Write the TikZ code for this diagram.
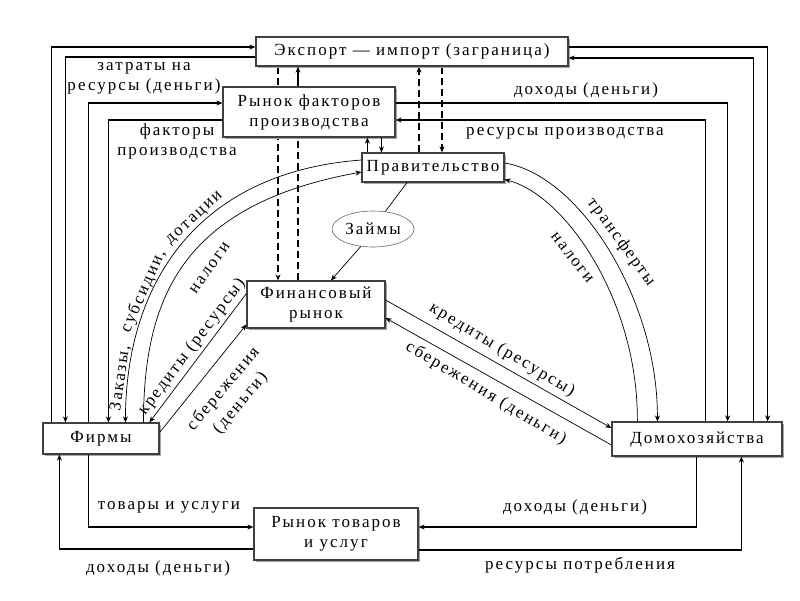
\documentclass[tikz,border=0pt]{standalone}
\usepackage{fontspec}
\setmainfont{Liberation Serif}[LetterSpace=12]
\usepackage{tikz}
\usetikzlibrary{positioning,calc,arrows.meta,shapes.geometric,backgrounds,shadows}

\begin{document}
\begin{tikzpicture}[x=1pt, y=-1pt, >={Stealth[length=6pt,width=5pt]},
  font=\fontsize{17}{20}\selectfont,
  boxnode/.style={draw=black!75, line width=1.2pt, fill=white, inner sep=0pt, align=center,
    drop shadow={shadow xshift=1.5pt, shadow yshift=-1.5pt, fill=black!35, opacity=1}},
  lbl/.style={inner sep=0pt, align=center},
  loopline/.style={line width=1.5pt},
  flowline/.style={line width=1.1pt},
  curveline/.style={line width=0.7pt},
  dashline/.style={line width=1.1pt, dash pattern=on 7pt off 4pt}]
  \useasboundingbox (0,0) rectangle (800,600);

  % Markets and sectors
  \node[boxnode, minimum width=312pt, minimum height=29pt] (exp) at (412,51.5) {Экспорт — импорт (заграница)};
  \node[boxnode, minimum width=172pt, minimum height=50pt] (rf) at (309,112) {Рынок факторов\\производства};
  \node[boxnode, minimum width=142pt, minimum height=29pt] (gov) at (433,167.5) {Правительство};
  \node[ellipse, draw=black!60, line width=0.6pt, fill=white, minimum width=82pt, minimum height=36pt, inner sep=0pt] (zaim) at (373,229) {Займы};
  \node[boxnode, minimum width=138pt, minimum height=47pt] (fin) at (316,304.5) {Финансовый\\рынок};
  \node[boxnode, minimum width=116pt, minimum height=31pt] (firm) at (101,438.5) {Фирмы};
  \node[boxnode, minimum width=170pt, minimum height=34pt] (dom) at (697,439) {Домохозяйства};
  \node[boxnode, minimum width=164pt, minimum height=52pt] (rt) at (336,534) {Рынок товаров\\и услуг};

  % Outer loops: firms
  \draw[loopline, ->] ($(firm.north west)+(9,0)$) |- ($(exp.west)+(0,-4.5)$);
  \draw[loopline, ->] ($(exp.west)+(0,5.5)$) -| ($(firm.north west)+(23,0)$);
  \draw[loopline, ->] ($(firm.north west)+(46,0)$) |- ($(rf.west)+(0,-9)$);
  \draw[loopline, ->] ($(rf.west)+(0,8)$) -| ($(firm.north west)+(66,0)$);

  % Outer loops: households
  \draw[loopline, ->] ($(exp.east)+(0,-4.5)$) -| ($(dom.north east)+(-15,0)$);
  \draw[loopline, ->] ($(dom.north east)+(-29,0)$) |- ($(exp.east)+(0,6.5)$);
  \draw[loopline, ->] ($(rf.east)+(0,-9)$) -| ($(dom.north east)+(-55,0)$);
  \draw[loopline, ->] ($(dom.north east)+(-77,0)$) |- ($(rf.east)+(0,8)$);

  % Goods market
  \draw[loopline, ->] ($(firm.south west)+(46,0)$) |- ($(rt.west)+(0,-7)$);
  \draw[loopline, ->] ($(rt.west)+(0,15)$) -| ($(firm.south west)+(17,0)$);
  \draw[loopline, ->] ($(dom.south west)+(85,0)$) |- ($(rt.east)+(0,-7)$);
  \draw[loopline, ->] ($(rt.east)+(0,16)$) -| ($(dom.south west)+(130,0)$);

  % Government and factor market
  \coordinate (g1) at ($(gov.north west)+(6,0)$);
  \coordinate (g2) at ($(gov.north west)+(20,0)$);
  \draw[flowline, ->] (g1) -- (g1 |- rf.south);
  \draw[flowline, ->] (g2 |- rf.south) -- (g2);

  % Dashed links to the export box
  \coordinate (d1) at ($(fin.north)+(-38,0)$);
  \coordinate (d2) at ($(fin.north)+(-18,0)$);
  \coordinate (d3) at ($(gov.north)+(-14,0)$);
  \coordinate (d4) at ($(gov.north)+(9,0)$);
  \begin{pgfonlayer}{background}
    \draw[dashline, ->] (d1 |- exp.south) -- (d1);
    \draw[dashline] (d2) -- (d2 |- rf.south);
    \draw[dashline, ->] (d3) -- (d3 |- exp.south);
    \draw[dashline, ->] (d4 |- exp.south) -- (d4);
  \end{pgfonlayer}
  \draw[flowline, ->] (d2 |- rf.north) -- (d2 |- exp.south);

  % Loans
  \draw[curveline] ($(gov.south)+(-26,0)$) -- (zaim.55);
  \draw[curveline, ->] (zaim.-125) -- ($(fin.north)+(15,0)$);

  % Financial market
  \draw[curveline, ->] ($(fin.west)+(0,-11)$) -- ($(firm.north west)+(107,0)$);
  \draw[curveline, ->] ($(firm.east)+(0,-6)$) -- ($(fin.west)+(0,20)$);
  \draw[curveline, ->] ($(fin.east)+(0,-4.5)$) -- ($(dom.west)+(0,-11)$);
  \draw[curveline, ->] ($(dom.west)+(0,6)$) -- ($(fin.east)+(0,13.5)$);

  % Arcs to the government
  \draw[curveline, ->] ($(gov.west)+(0,-7.5)$) .. controls (200,172) and (126,280) .. ($(firm.north west)+(83,0)$);
  \draw[curveline, ->] ($(firm.north west)+(101,0)$) .. controls (144,300) and (180,205) .. ($(gov.west)+(0,4.5)$);
  \draw[curveline, ->] ($(gov.east)+(0,-4.5)$) .. controls (580,175) and (658,300) .. ($(dom.north west)+(46,0)$);
  \draw[curveline, ->] ($(dom.north west)+(26,0)$) .. controls (638,300) and (565,195) .. ($(gov.east)+(0,12)$);

  % Labels
  \node[lbl] (lzatr) at (144,78.5) {затраты на\\ресурсы (деньги)};
  \node[lbl] (lfakt) at (177,141) {факторы\\производства};
  \node[lbl] (ldoh1) at (586,90) {доходы (деньги)};
  \node[lbl] (lres1) at (565,133) {ресурсы производства};
  \node[lbl] (ltov) at (169,507) {товары и услуги};
  \node[lbl] (ldoh2) at (158,568) {доходы (деньги)};
  \node[lbl] (ldoh3) at (575,507) {доходы (деньги)};
  \node[lbl] (lres2) at (580,565) {ресурсы потребления};
  \node[lbl, rotate=82] (lzak1) at (120.5,378) {Заказы,};
  \node[lbl, rotate=66] (lzak2) at (143.5,291) {субсидии,};
  \node[lbl, rotate=43] (lzak3) at (195,218.5) {дотации};
  \node[lbl, rotate=55] (lnal1) at (210,268) {налоги};
  \node[lbl, rotate=53] (lkr1) at (192,347) {кредиты (ресурсы)};
  \node[lbl, rotate=50, font=\fontsize{17}{22}\selectfont] (lsb1) at (232,396) {сбережения\\(деньги)};
  \node[lbl, rotate=-31] (lkr2) at (502,350) {кредиты (ресурсы)};
  \node[lbl, rotate=-31] (lsb2) at (486,393) {сбережения (деньги)};
  \node[lbl, rotate=-54] (ltr) at (621,242) {трансферты};
  \node[lbl, rotate=-52] (lnal2) at (572,258) {налоги};
\end{tikzpicture}
\end{document}
